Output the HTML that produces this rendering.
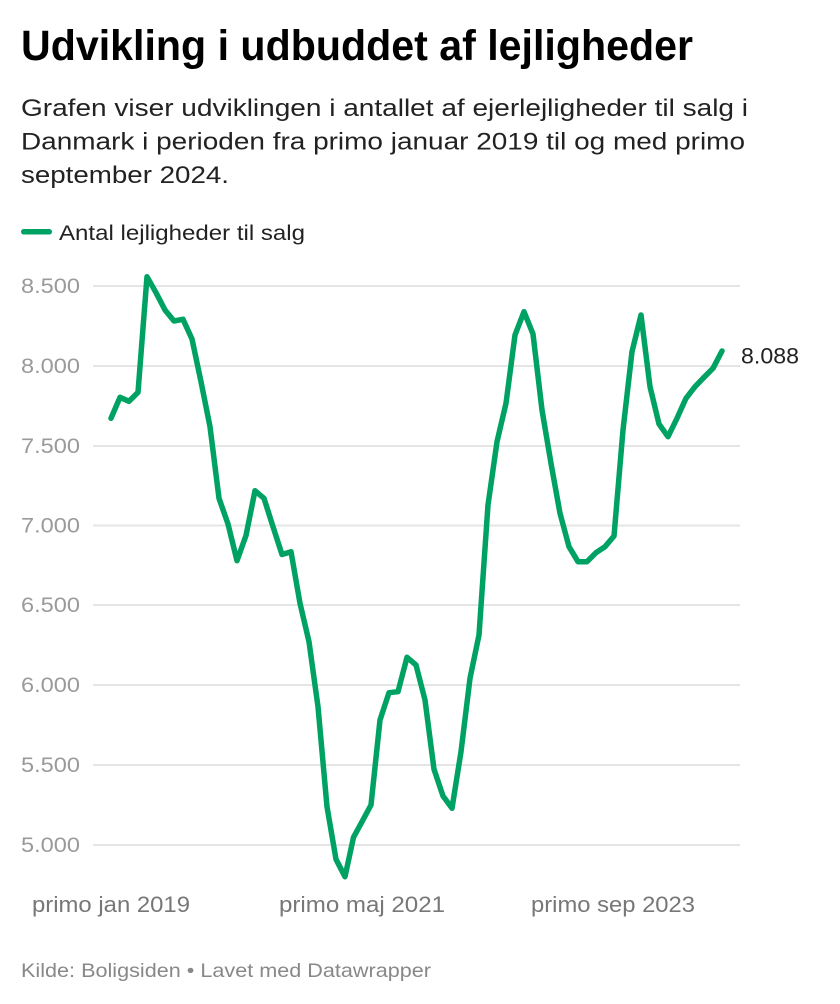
<!DOCTYPE html>
<html><head><meta charset="utf-8"><style>
html,body{margin:0;padding:0;background:#fff;}
svg{display:block;}
text{font-family:"Liberation Sans",Arial,sans-serif;}
</style></head><body>
<svg width="840" height="1004" viewBox="0 0 840 1004" xmlns="http://www.w3.org/2000/svg">
<rect width="840" height="1004" fill="#fff"/>
<text x="21" y="60" font-size="43" font-weight="bold" fill="#000" textLength="672" lengthAdjust="spacingAndGlyphs">Udvikling i udbuddet af lejligheder</text>
<text x="21" y="116" font-size="24" fill="#222" textLength="727" lengthAdjust="spacingAndGlyphs">Grafen viser udviklingen i antallet af ejerlejligheder til salg i</text>
<text x="21" y="149.5" font-size="24" fill="#222" textLength="724" lengthAdjust="spacingAndGlyphs">Danmark i perioden fra primo januar 2019 til og med primo</text>
<text x="21" y="183" font-size="24" fill="#222" textLength="208" lengthAdjust="spacingAndGlyphs">september 2024.</text>
<rect x="21" y="229" width="31" height="5.5" rx="2.7" fill="#00a264"/>
<text x="59" y="240" font-size="21" fill="#222" textLength="246" lengthAdjust="spacingAndGlyphs">Antal lejligheder til salg</text>
<g stroke="#e5e5e5" stroke-width="2">
<line x1="93" y1="286" x2="740" y2="286"/>
<line x1="93" y1="366" x2="740" y2="366"/>
<line x1="93" y1="446" x2="740" y2="446"/>
<line x1="93" y1="525.5" x2="740" y2="525.5"/>
<line x1="93" y1="605" x2="740" y2="605"/>
<line x1="93" y1="685" x2="740" y2="685"/>
<line x1="93" y1="765" x2="740" y2="765"/>
<line x1="93" y1="845" x2="740" y2="845"/>
</g>
<g font-size="21" fill="#9a9a9a" text-anchor="end">
<text x="80" y="293" textLength="59" lengthAdjust="spacingAndGlyphs">8.500</text>
<text x="80" y="373" textLength="59" lengthAdjust="spacingAndGlyphs">8.000</text>
<text x="80" y="453" textLength="59" lengthAdjust="spacingAndGlyphs">7.500</text>
<text x="80" y="532.5" textLength="59" lengthAdjust="spacingAndGlyphs">7.000</text>
<text x="80" y="612" textLength="59" lengthAdjust="spacingAndGlyphs">6.500</text>
<text x="80" y="692" textLength="59" lengthAdjust="spacingAndGlyphs">6.000</text>
<text x="80" y="772" textLength="59" lengthAdjust="spacingAndGlyphs">5.500</text>
<text x="80" y="852" textLength="59" lengthAdjust="spacingAndGlyphs">5.000</text>
</g>
<g font-size="22" fill="#777">
<text x="32" y="912" textLength="158" lengthAdjust="spacingAndGlyphs">primo jan 2019</text>
<text x="279" y="912" textLength="166" lengthAdjust="spacingAndGlyphs">primo maj 2021</text>
<text x="531" y="912" textLength="164" lengthAdjust="spacingAndGlyphs">primo sep 2023</text>
</g>
<polyline fill="none" stroke="#00a264" stroke-width="5.5" stroke-linejoin="round" stroke-linecap="round" points="
111,418.3 120,397.3 129,401.3 138,392.3 147,276.7 156,292.7 165,310 174,321 183,319.3 192,339
201,381.7 210,426.7 219,498.3 228,524 237,560.7 246,535.5 255,490.7 264,498.3 273,526.7 282,554.5
291,551.7 300,603.3 309,641.7 318,706.7 327,806.7 336,859.3 345,876.7 353.5,837.3 362,821.7 371,805
380,720 389,692.7 398,691.7 407,657.3 416,665 425,700 434,769.3 443,796 452,808.3 461,751.7
470,678.3 479,635 488,505 497,441.7 506,403.3 515,335 524,311.7 533,334 542,410 551,463.3
560,513.3 569,546.7 578,561.7 587,561.7 596,552.7 605,546.7 614,536 623,430 632,351.7 641,315
650,386.7 659,424 668,436.7 677,418.3 686,398.3 695,386.7 704,377.3 713,368.3 722,351"/>
<text x="741" y="363.5" font-size="22" fill="#222" textLength="58" lengthAdjust="spacingAndGlyphs">8.088</text>
<text x="21" y="977" font-size="19.5" fill="#888" textLength="410" lengthAdjust="spacingAndGlyphs">Kilde: Boligsiden • Lavet med Datawrapper</text>
</svg>
</body></html>
